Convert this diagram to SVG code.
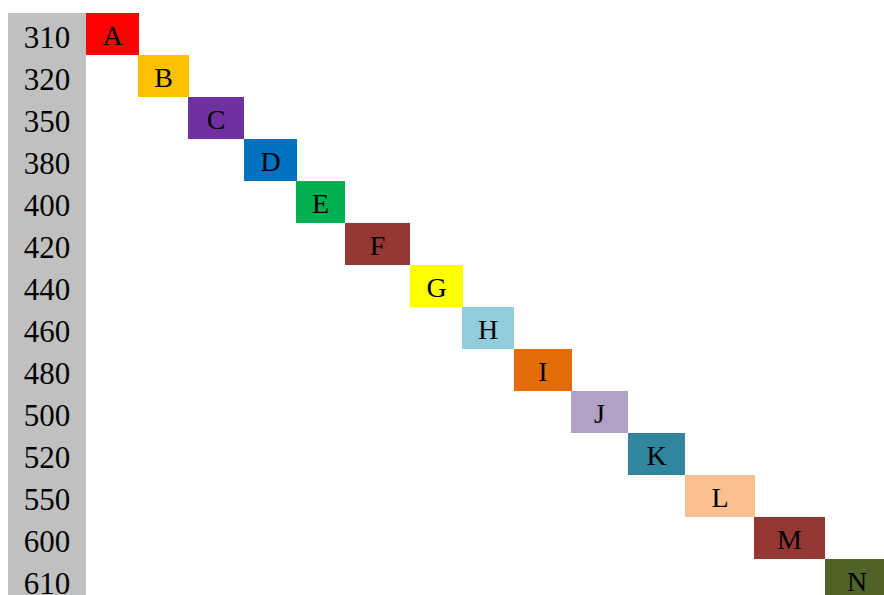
<svg xmlns="http://www.w3.org/2000/svg" width="884" height="595" viewBox="0 0 884 595">
<style>
.num{font-family:"Liberation Serif","Times New Roman",serif;font-size:31px;fill:#000;text-anchor:middle}
.lbl{font-family:"Liberation Serif","Times New Roman",serif;font-size:28px;fill:#000;text-anchor:middle}
</style>
<rect x="0" y="0" width="884" height="595" fill="#FFFFFF"/>
<g id="axis">
<rect x="8" y="13" width="78" height="582" fill="#C0C0C0"/>
<text class="num" x="47" y="48">310</text>
<text class="num" x="47" y="90">320</text>
<text class="num" x="47" y="132">350</text>
<text class="num" x="47" y="174">380</text>
<text class="num" x="47" y="216">400</text>
<text class="num" x="47" y="258">420</text>
<text class="num" x="47" y="300">440</text>
<text class="num" x="47" y="342">460</text>
<text class="num" x="47" y="384">480</text>
<text class="num" x="47" y="426">500</text>
<text class="num" x="47" y="468">520</text>
<text class="num" x="47" y="510">550</text>
<text class="num" x="47" y="552">600</text>
<text class="num" x="47" y="594">610</text>
</g>
<g id="A"><rect x="86" y="13" width="53" height="42" fill="#FF0000"/><text class="lbl" x="112.5" y="45">A</text></g>
<g id="B"><rect x="138" y="55" width="51" height="42" fill="#FFC000"/><text class="lbl" x="163.5" y="87">B</text></g>
<g id="C"><rect x="188" y="97" width="56" height="42" fill="#7030A0"/><text class="lbl" x="216" y="129">C</text></g>
<g id="D"><rect x="244" y="139" width="53" height="42" fill="#0070C0"/><text class="lbl" x="270.5" y="171">D</text></g>
<g id="E"><rect x="296" y="181" width="49" height="42" fill="#00B050"/><text class="lbl" x="320.5" y="213">E</text></g>
<g id="F"><rect x="345" y="223" width="65" height="42" fill="#953735"/><text class="lbl" x="377.5" y="255">F</text></g>
<g id="G"><rect x="410" y="265" width="53" height="42" fill="#FFFF00"/><text class="lbl" x="436.5" y="297">G</text></g>
<g id="H"><rect x="462" y="307" width="52" height="42" fill="#92CDDC"/><text class="lbl" x="488" y="339">H</text></g>
<g id="I"><rect x="514" y="349" width="58" height="42" fill="#E36C09"/><text class="lbl" x="543" y="381">I</text></g>
<g id="J"><rect x="571" y="391" width="57" height="42" fill="#B2A1C7"/><text class="lbl" x="599.5" y="423">J</text></g>
<g id="K"><rect x="628" y="433" width="57" height="42" fill="#31859C"/><text class="lbl" x="656.5" y="465">K</text></g>
<g id="L"><rect x="685" y="475" width="70" height="42" fill="#FAC090"/><text class="lbl" x="720" y="507">L</text></g>
<g id="M"><rect x="754" y="517" width="71" height="42" fill="#953735"/><text class="lbl" x="789.5" y="549">M</text></g>
<g id="N"><rect x="825" y="559" width="59" height="42" fill="#4F6228"/><text class="lbl" x="857" y="591">N</text></g>
<g id="connectors"></g>
</svg>
